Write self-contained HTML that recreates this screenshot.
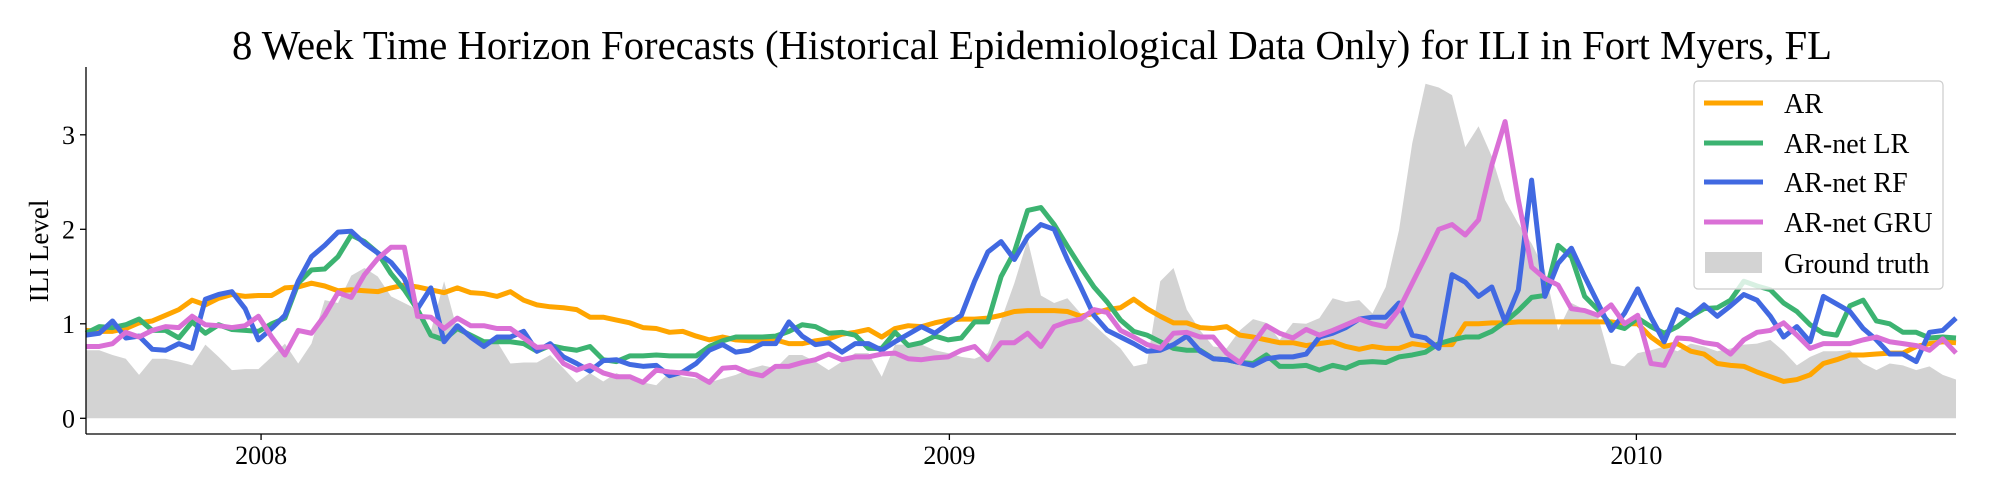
<!DOCTYPE html>
<html><head><meta charset="utf-8"><style>
html,body{margin:0;padding:0;background:#fff;}
svg{display:block;font-family:"Liberation Serif",serif;}
</style></head><body>
<svg id="chart" width="2000" height="500" viewBox="0 0 2000 500" xmlns="http://www.w3.org/2000/svg">
<text x="1032" y="59" font-size="41" text-anchor="middle" textLength="1600" lengthAdjust="spacingAndGlyphs">8 Week Time Horizon Forecasts (Historical Epidemiological Data Only) for ILI in Fort Myers, FL</text>
<g id="plot"></g>
<text transform="translate(48,251) rotate(-90)" font-size="27" text-anchor="middle">ILI Level</text>
</svg>
<script>
const yTicks = [0, 1, 2, 3];
const xTickLabels = ["2008", "2009", "2010"];
const xTickWeeks = [13.2, 65.1, 116.9];
const groundTruth = [0.72,0.72,0.67,0.63,0.46,0.63,0.63,0.60,0.56,0.78,
0.65,0.51,0.52,0.52,0.65,0.79,0.58,0.79,1.25,1.22,
1.51,1.59,1.50,1.29,1.22,1.15,0.92,1.45,0.93,0.88,
0.83,0.81,0.58,0.59,0.59,0.67,0.53,0.38,0.48,0.39,
0.48,0.41,0.38,0.35,0.49,0.44,0.42,0.38,0.42,0.46,
0.52,0.56,0.53,0.67,0.67,0.60,0.51,0.60,0.69,0.69,
0.44,0.78,0.78,0.78,0.72,0.69,0.65,0.63,0.69,1.04,
1.43,1.89,1.30,1.22,1.27,1.11,0.99,0.86,0.74,0.55,
0.58,1.45,1.59,1.15,0.93,0.76,0.74,0.93,1.05,1.01,
0.83,1.01,1.00,1.06,1.27,1.23,1.25,1.11,1.39,1.99,
2.91,3.54,3.50,3.42,2.87,3.09,2.77,2.31,2.06,1.85,
1.57,0.93,1.22,1.15,1.08,0.58,0.55,0.69,0.72,0.76,
0.71,0.79,0.76,0.71,0.74,0.78,0.79,0.83,0.71,0.56,
0.65,0.71,0.71,0.72,0.58,0.51,0.58,0.56,0.51,0.55,0.46,0.41];
const arValues = [0.93,0.92,0.92,0.95,1.01,1.03,1.09,1.15,1.25,1.20,
1.27,1.31,1.29,1.30,1.30,1.38,1.39,1.43,1.40,1.35,
1.36,1.35,1.34,1.38,1.41,1.39,1.36,1.33,1.38,1.33,
1.32,1.29,1.34,1.25,1.20,1.18,1.17,1.15,1.07,1.07,
1.04,1.01,0.96,0.95,0.91,0.92,0.87,0.83,0.86,0.83,
0.82,0.82,0.83,0.79,0.79,0.82,0.84,0.89,0.91,0.94,
0.86,0.95,0.98,0.97,1.01,1.04,1.05,1.05,1.06,1.09,
1.13,1.14,1.14,1.14,1.13,1.08,1.11,1.15,1.17,1.26,
1.16,1.08,1.01,1.01,0.96,0.95,0.97,0.88,0.86,0.83,
0.80,0.80,0.77,0.79,0.81,0.76,0.73,0.76,0.74,0.74,
0.79,0.77,0.78,0.78,1.00,1.00,1.01,1.01,1.02,1.02,
1.02,1.02,1.02,1.02,1.02,1.02,1.00,1.00,0.86,0.76,
0.79,0.71,0.68,0.58,0.56,0.55,0.49,0.44,0.39,0.41,
0.46,0.58,0.62,0.67,0.67,0.68,0.69,0.69,0.76,0.79,0.81,0.80];
const lrValues = [0.90,0.97,0.96,0.99,1.05,0.93,0.93,0.85,1.02,0.90,
0.99,0.94,0.93,0.92,1.00,1.06,1.43,1.57,1.58,1.71,
1.94,1.87,1.75,1.53,1.36,1.15,0.88,0.83,0.95,0.88,
0.81,0.81,0.81,0.79,0.71,0.77,0.74,0.72,0.76,0.62,
0.60,0.66,0.66,0.67,0.66,0.66,0.66,0.76,0.82,0.86,
0.86,0.86,0.87,0.92,0.99,0.97,0.90,0.91,0.88,0.74,
0.74,0.91,0.77,0.80,0.87,0.83,0.85,1.02,1.02,1.50,
1.76,2.20,2.23,2.05,1.82,1.60,1.39,1.23,1.04,0.92,
0.88,0.81,0.74,0.72,0.72,0.63,0.62,0.59,0.58,0.67,
0.55,0.55,0.56,0.51,0.56,0.53,0.59,0.60,0.59,0.65,
0.67,0.70,0.79,0.83,0.86,0.86,0.92,1.02,1.14,1.28,
1.30,1.83,1.71,1.29,1.15,0.99,0.95,1.06,0.97,0.90,
0.97,1.08,1.16,1.17,1.25,1.45,1.40,1.36,1.22,1.13,
0.99,0.90,0.88,1.19,1.25,1.03,1.00,0.91,0.91,0.85,0.86,0.85];
const rfValues = [0.88,0.90,1.03,0.85,0.87,0.73,0.72,0.79,0.74,1.26,
1.31,1.34,1.16,0.83,0.95,1.09,1.45,1.71,1.83,1.97,
1.98,1.85,1.75,1.65,1.48,1.16,1.38,0.81,0.98,0.86,
0.76,0.86,0.86,0.92,0.71,0.79,0.65,0.58,0.50,0.61,
0.62,0.57,0.55,0.56,0.45,0.49,0.58,0.72,0.78,0.70,
0.72,0.79,0.79,1.02,0.87,0.78,0.80,0.70,0.79,0.79,
0.72,0.81,0.89,0.97,0.90,1.00,1.09,1.45,1.76,1.87,
1.68,1.92,2.05,2.00,1.68,1.39,1.09,0.93,0.86,0.79,
0.71,0.72,0.78,0.87,0.71,0.63,0.62,0.59,0.56,0.63,
0.65,0.65,0.68,0.86,0.90,0.96,1.05,1.07,1.07,1.22,
0.88,0.85,0.74,1.52,1.44,1.29,1.39,1.02,1.36,2.52,
1.29,1.64,1.80,1.50,1.22,0.93,1.11,1.37,1.07,0.81,
1.15,1.08,1.20,1.08,1.19,1.31,1.25,1.08,0.86,0.97,
0.81,1.29,1.21,1.13,0.95,0.83,0.68,0.68,0.60,0.91,0.93,1.06];
const gruValues = [0.76,0.76,0.79,0.91,0.86,0.93,0.97,0.96,1.08,0.99,
0.98,0.96,0.98,1.08,0.86,0.67,0.93,0.90,1.09,1.33,
1.28,1.52,1.69,1.81,1.81,1.08,1.07,0.95,1.06,0.98,
0.98,0.95,0.95,0.85,0.75,0.76,0.58,0.51,0.56,0.48,
0.44,0.44,0.38,0.51,0.49,0.48,0.46,0.38,0.53,0.54,
0.48,0.45,0.55,0.55,0.59,0.62,0.68,0.62,0.65,0.65,
0.68,0.69,0.63,0.62,0.64,0.65,0.72,0.76,0.62,0.80,
0.80,0.90,0.76,0.97,1.02,1.05,1.15,1.12,0.93,0.86,
0.78,0.74,0.90,0.91,0.86,0.86,0.69,0.59,0.79,0.98,
0.90,0.85,0.94,0.88,0.93,0.99,1.05,1.00,0.97,1.15,
1.43,1.71,2.00,2.05,1.94,2.10,2.68,3.14,2.31,1.60,
1.48,1.41,1.16,1.14,1.09,1.20,1.00,1.09,0.58,0.56,
0.85,0.84,0.80,0.78,0.68,0.83,0.91,0.93,1.01,0.88,
0.74,0.79,0.79,0.79,0.83,0.86,0.81,0.79,0.77,0.72,0.84,0.69];
const seriesNames = ["AR", "AR-net LR", "AR-net RF", "AR-net GRU"];

const NS = "http://www.w3.org/2000/svg";
const L = 86, R = 1956, T = 67, B = 434;
const nPts = groundTruth.length;
function xScale(i){ return L + i * (R - L) / (nPts - 1); }
function yScale(v){ return 418.3 - v * 94.5; }
const plot = document.getElementById('plot');
function mk(tag, attrs){ const e = document.createElementNS(NS, tag); for (const k in attrs) e.setAttribute(k, attrs[k]); plot.appendChild(e); return e; }

let d = "M" + xScale(0) + "," + yScale(0);
groundTruth.forEach((v, i) => { d += " L" + xScale(i).toFixed(2) + "," + yScale(v).toFixed(2); });
d += " L" + xScale(nPts - 1) + "," + yScale(0) + " Z";
const area = mk('path', {d: d, fill: '#d3d3d3', stroke: 'none'});



const seriesData = [arValues, lrValues, rfValues, gruValues];
const colors = ['#ffa500', '#3cb371', '#4169e1', '#da70d6'];
const seriesKeys = ['ar-line', 'ar-net-lr-line', 'ar-net-rf-line', 'ar-net-gru-line'];
seriesData.forEach((arr, s) => {
  const pts = arr.map((v, i) => xScale(i).toFixed(2) + "," + yScale(v).toFixed(2)).join(" ");
  const pl = mk('polyline', {points: pts, fill: 'none', stroke: colors[s], 'stroke-width': 5, 'stroke-linejoin': 'round'});
  
  
});

const ySpine = mk('line', {x1: L, y1: T, x2: L, y2: B, stroke: '#000', 'stroke-width': 1.3});


const xSpine = mk('line', {x1: L, y1: B, x2: R, y2: B, stroke: '#000', 'stroke-width': 1.3});



yTicks.forEach(t => {
  const y = yScale(t);
  const tk = mk('line', {x1: L - 6, y1: y, x2: L, y2: y, stroke: '#000', 'stroke-width': 1.3});
  
  
  const lb = mk('text', {x: L - 11, y: y + 9, 'font-size': 26, 'text-anchor': 'end'});
  lb.textContent = String(t);
  
  
});
xTickLabels.forEach((lab, k) => {
  const x = xScale(xTickWeeks[k]);
  const tk = mk('line', {x1: x, y1: B, x2: x, y2: B + 6, stroke: '#000', 'stroke-width': 1.3});
  
  
  const lb = mk('text', {x: x, y: 464, 'font-size': 26, 'text-anchor': 'middle'});
  lb.textContent = lab;
  
  
});

const lg = mk('rect', {x: 1694, y: 81, width: 249, height: 208, rx: 4, fill: 'rgba(255,255,255,0.8)', stroke: '#cccccc', 'stroke-width': 1.2});


const rowY = [103, 143, 182, 222, 263];
seriesNames.forEach((nm, s) => {
  const ln = mk('line', {x1: 1704, y1: rowY[s], x2: 1763, y2: rowY[s], stroke: colors[s], 'stroke-width': 5});
  
  
  const tx = mk('text', {x: 1784, y: rowY[s] + 10, 'font-size': 28});
  tx.textContent = nm;
  
  
});
const gp = mk('rect', {x: 1705, y: 252, width: 57, height: 21, fill: '#d3d3d3'});


const gt = mk('text', {x: 1784, y: rowY[4] + 10, 'font-size': 28});
gt.textContent = 'Ground truth';


</script>
</body></html>
